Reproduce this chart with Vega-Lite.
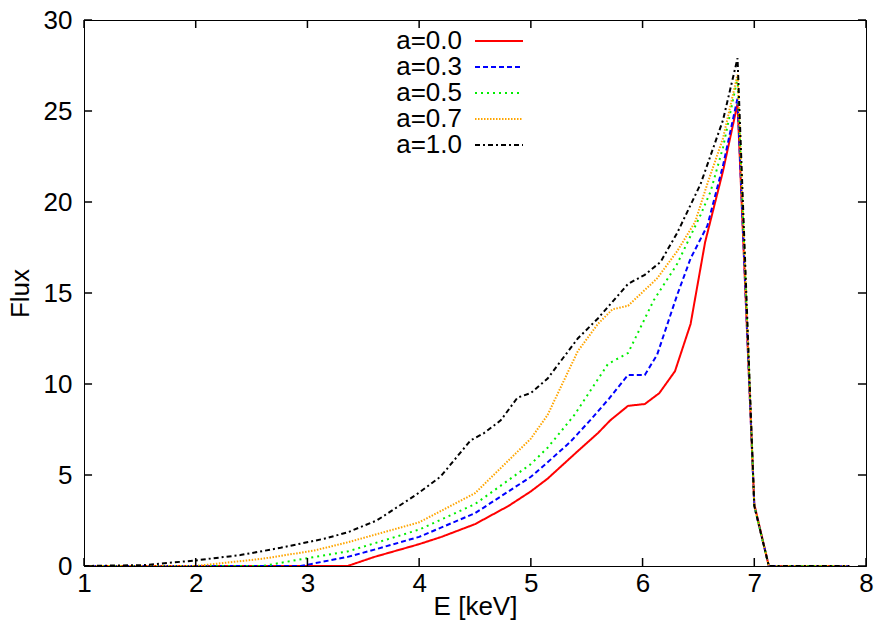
{
  "$schema": "https://vega.github.io/schema/vega-lite/v6.json",
  "width": 782,
  "height": 546,
  "autosize": "none",
  "padding": {"left": 84, "top": 20, "right": 14, "bottom": 60},
  "background": "white",
  "config": {
    "view": {"stroke": "black", "strokeWidth": 1},
    "font": "Liberation Sans",
    "axis": {"grid": false, "labelFontSize": 26, "titleFontSize": 26, "titleFontWeight": "normal", "labelColor": "black", "titleColor": "black"}
  },
  "datasets": {
    "xt": [{"E": 1}, {"E": 2}, {"E": 3}, {"E": 4}, {"E": 5}, {"E": 6}, {"E": 7}, {"E": 8}],
    "yt": [{"flux": 0}, {"flux": 5}, {"flux": 10}, {"flux": 15}, {"flux": 20}, {"flux": 25}, {"flux": 30}],
    "spec": [
      {"E": 1.0, "flux": 0, "a": "a=0.0"}, {"E": 3.36, "flux": 0, "a": "a=0.0"}, {"E": 3.6, "flux": 0.5, "a": "a=0.0"}, {"E": 4.0, "flux": 1.2, "a": "a=0.0"}, {"E": 4.2, "flux": 1.6, "a": "a=0.0"}, {"E": 4.5, "flux": 2.3, "a": "a=0.0"}, {"E": 4.8, "flux": 3.3, "a": "a=0.0"}, {"E": 5.0, "flux": 4.1, "a": "a=0.0"}, {"E": 5.15, "flux": 4.8, "a": "a=0.0"}, {"E": 5.4, "flux": 6.2, "a": "a=0.0"}, {"E": 5.6, "flux": 7.3, "a": "a=0.0"}, {"E": 5.71, "flux": 8.0, "a": "a=0.0"}, {"E": 5.87, "flux": 8.8, "a": "a=0.0"}, {"E": 6.02, "flux": 8.9, "a": "a=0.0"}, {"E": 6.15, "flux": 9.5, "a": "a=0.0"}, {"E": 6.29, "flux": 10.7, "a": "a=0.0"}, {"E": 6.43, "flux": 13.3, "a": "a=0.0"}, {"E": 6.56, "flux": 17.8, "a": "a=0.0"}, {"E": 6.72, "flux": 21.7, "a": "a=0.0"}, {"E": 6.85, "flux": 25.4, "a": "a=0.0"}, {"E": 7.0, "flux": 3.4, "a": "a=0.0"}, {"E": 7.13, "flux": 0, "a": "a=0.0"}, {"E": 7.85, "flux": 0, "a": "a=0.0"},
      {"E": 1.0, "flux": 0, "a": "a=0.3"}, {"E": 2.94, "flux": 0, "a": "a=0.3"}, {"E": 3.36, "flux": 0.5, "a": "a=0.3"}, {"E": 3.6, "flux": 0.9, "a": "a=0.3"}, {"E": 4.0, "flux": 1.6, "a": "a=0.3"}, {"E": 4.5, "flux": 2.9, "a": "a=0.3"}, {"E": 5.0, "flux": 4.9, "a": "a=0.3"}, {"E": 5.15, "flux": 5.7, "a": "a=0.3"}, {"E": 5.35, "flux": 6.8, "a": "a=0.3"}, {"E": 5.53, "flux": 8.0, "a": "a=0.3"}, {"E": 5.7, "flux": 9.2, "a": "a=0.3"}, {"E": 5.87, "flux": 10.5, "a": "a=0.3"}, {"E": 6.02, "flux": 10.5, "a": "a=0.3"}, {"E": 6.13, "flux": 11.6, "a": "a=0.3"}, {"E": 6.31, "flux": 14.9, "a": "a=0.3"}, {"E": 6.43, "flux": 16.9, "a": "a=0.3"}, {"E": 6.58, "flux": 18.7, "a": "a=0.3"}, {"E": 6.72, "flux": 22.0, "a": "a=0.3"}, {"E": 6.85, "flux": 25.7, "a": "a=0.3"}, {"E": 7.0, "flux": 3.3, "a": "a=0.3"}, {"E": 7.13, "flux": 0, "a": "a=0.3"}, {"E": 7.85, "flux": 0, "a": "a=0.3"},
      {"E": 1.0, "flux": 0, "a": "a=0.5"}, {"E": 2.6, "flux": 0, "a": "a=0.5"}, {"E": 2.97, "flux": 0.4, "a": "a=0.5"}, {"E": 3.36, "flux": 0.8, "a": "a=0.5"}, {"E": 4.0, "flux": 2.0, "a": "a=0.5"}, {"E": 4.5, "flux": 3.4, "a": "a=0.5"}, {"E": 5.0, "flux": 5.6, "a": "a=0.5"}, {"E": 5.15, "flux": 6.5, "a": "a=0.5"}, {"E": 5.39, "flux": 8.3, "a": "a=0.5"}, {"E": 5.69, "flux": 11.1, "a": "a=0.5"}, {"E": 5.87, "flux": 11.7, "a": "a=0.5"}, {"E": 6.1, "flux": 14.6, "a": "a=0.5"}, {"E": 6.31, "flux": 16.6, "a": "a=0.5"}, {"E": 6.52, "flux": 19.3, "a": "a=0.5"}, {"E": 6.61, "flux": 20.6, "a": "a=0.5"}, {"E": 6.72, "flux": 23.0, "a": "a=0.5"}, {"E": 6.85, "flux": 26.8, "a": "a=0.5"}, {"E": 7.0, "flux": 3.3, "a": "a=0.5"}, {"E": 7.13, "flux": 0, "a": "a=0.5"}, {"E": 7.85, "flux": 0, "a": "a=0.5"},
      {"E": 1.0, "flux": 0, "a": "a=0.7"}, {"E": 2.0, "flux": 0, "a": "a=0.7"}, {"E": 2.6, "flux": 0.4, "a": "a=0.7"}, {"E": 3.06, "flux": 0.85, "a": "a=0.7"}, {"E": 3.36, "flux": 1.3, "a": "a=0.7"}, {"E": 4.0, "flux": 2.4, "a": "a=0.7"}, {"E": 4.5, "flux": 4.0, "a": "a=0.7"}, {"E": 5.0, "flux": 7.0, "a": "a=0.7"}, {"E": 5.15, "flux": 8.3, "a": "a=0.7"}, {"E": 5.42, "flux": 11.8, "a": "a=0.7"}, {"E": 5.6, "flux": 13.3, "a": "a=0.7"}, {"E": 5.73, "flux": 14.1, "a": "a=0.7"}, {"E": 5.87, "flux": 14.3, "a": "a=0.7"}, {"E": 6.13, "flux": 15.8, "a": "a=0.7"}, {"E": 6.31, "flux": 17.3, "a": "a=0.7"}, {"E": 6.47, "flux": 18.9, "a": "a=0.7"}, {"E": 6.58, "flux": 21.0, "a": "a=0.7"}, {"E": 6.72, "flux": 23.5, "a": "a=0.7"}, {"E": 6.85, "flux": 27.0, "a": "a=0.7"}, {"E": 7.0, "flux": 3.3, "a": "a=0.7"}, {"E": 7.13, "flux": 0, "a": "a=0.7"}, {"E": 7.85, "flux": 0, "a": "a=0.7"},
      {"E": 1.0, "flux": 0, "a": "a=1.0"}, {"E": 1.54, "flux": 0.05, "a": "a=1.0"}, {"E": 1.99, "flux": 0.3, "a": "a=1.0"}, {"E": 2.4, "flux": 0.6, "a": "a=1.0"}, {"E": 2.76, "flux": 1.0, "a": "a=1.0"}, {"E": 3.15, "flux": 1.5, "a": "a=1.0"}, {"E": 3.36, "flux": 1.85, "a": "a=1.0"}, {"E": 3.62, "flux": 2.5, "a": "a=1.0"}, {"E": 3.97, "flux": 3.9, "a": "a=1.0"}, {"E": 4.19, "flux": 4.9, "a": "a=1.0"}, {"E": 4.46, "flux": 6.9, "a": "a=1.0"}, {"E": 4.58, "flux": 7.3, "a": "a=1.0"}, {"E": 4.73, "flux": 8.0, "a": "a=1.0"}, {"E": 4.88, "flux": 9.25, "a": "a=1.0"}, {"E": 5.0, "flux": 9.5, "a": "a=1.0"}, {"E": 5.15, "flux": 10.3, "a": "a=1.0"}, {"E": 5.42, "flux": 12.5, "a": "a=1.0"}, {"E": 5.6, "flux": 13.6, "a": "a=1.0"}, {"E": 5.87, "flux": 15.5, "a": "a=1.0"}, {"E": 6.02, "flux": 16.0, "a": "a=1.0"}, {"E": 6.16, "flux": 16.7, "a": "a=1.0"}, {"E": 6.31, "flux": 18.3, "a": "a=1.0"}, {"E": 6.52, "flux": 21.0, "a": "a=1.0"}, {"E": 6.72, "flux": 24.5, "a": "a=1.0"}, {"E": 6.85, "flux": 27.9, "a": "a=1.0"}, {"E": 7.0, "flux": 3.3, "a": "a=1.0"}, {"E": 7.13, "flux": 0, "a": "a=1.0"}, {"E": 7.85, "flux": 0, "a": "a=1.0"}
    ]
  },
  "layer": [
    {
      "data": {"name": "spec"},
      "mark": {"type": "line", "strokeWidth": 2, "clip": true},
      "encoding": {
        "x": {"field": "E", "type": "quantitative", "scale": {"domain": [1, 8], "nice": false, "zero": false},
              "axis": {"orient": "bottom", "title": "E [keV]", "values": [1,2,3,4,5,6,7,8], "format": "d", "ticks": false, "domainColor": "black", "labelPadding": 4, "titlePadding": -3, "labelFlush": false}},
        "y": {"field": "flux", "type": "quantitative", "scale": {"domain": [0, 30], "nice": false},
              "axis": {"orient": "left", "title": "Flux", "values": [0,5,10,15,20,25,30], "format": "d", "ticks": false, "domainColor": "black", "labelPadding": 12, "titlePadding": 10, "labelFlush": false}},
        "color": {"field": "a", "type": "nominal",
                  "scale": {"domain": ["a=0.0","a=0.3","a=0.5","a=0.7","a=1.0"], "range": ["#ff0000","#0000ff","#00ee00","#ffa500","#000000"]},
                  "legend": {"title": null, "orient": "none", "legendX": 402, "legendY": 8, "symbolType": "M-2,0H2", "symbolSize": 576, "symbolStrokeWidth": 2, "symbolFillColor": "transparent", "labelFontSize": 26, "labelFont": "Liberation Sans", "labelColor": "black", "labelAlign": "right", "labelOffset": -50, "rowPadding": 0, "padding": 0}},
        "strokeDash": {"field": "a", "type": "nominal",
                  "scale": {"domain": ["a=0.0","a=0.3","a=0.5","a=0.7","a=1.0"], "range": [[1,0],[5,3],[2,4],[1.5,1.5],[5,3,2,3]]},
                  "legend": null}
      }
    },
    {
      "data": {"name": "xt"},
      "mark": {"type": "rule", "color": "black", "strokeWidth": 1.5},
      "encoding": {"x": {"field": "E", "type": "quantitative"}, "y": {"datum": 0}, "y2": {"datum": 0.44}}
    },
    {
      "data": {"name": "xt"},
      "mark": {"type": "rule", "color": "black", "strokeWidth": 1.5},
      "encoding": {"x": {"field": "E", "type": "quantitative"}, "y": {"datum": 30}, "y2": {"datum": 29.56}}
    },
    {
      "data": {"name": "yt"},
      "mark": {"type": "rule", "color": "black", "strokeWidth": 1.5},
      "encoding": {"y": {"field": "flux", "type": "quantitative"}, "x": {"datum": 1}, "x2": {"datum": 1.072}}
    },
    {
      "data": {"name": "yt"},
      "mark": {"type": "rule", "color": "black", "strokeWidth": 1.5},
      "encoding": {"y": {"field": "flux", "type": "quantitative"}, "x": {"datum": 8}, "x2": {"datum": 7.928}}
    }
  ]
}
